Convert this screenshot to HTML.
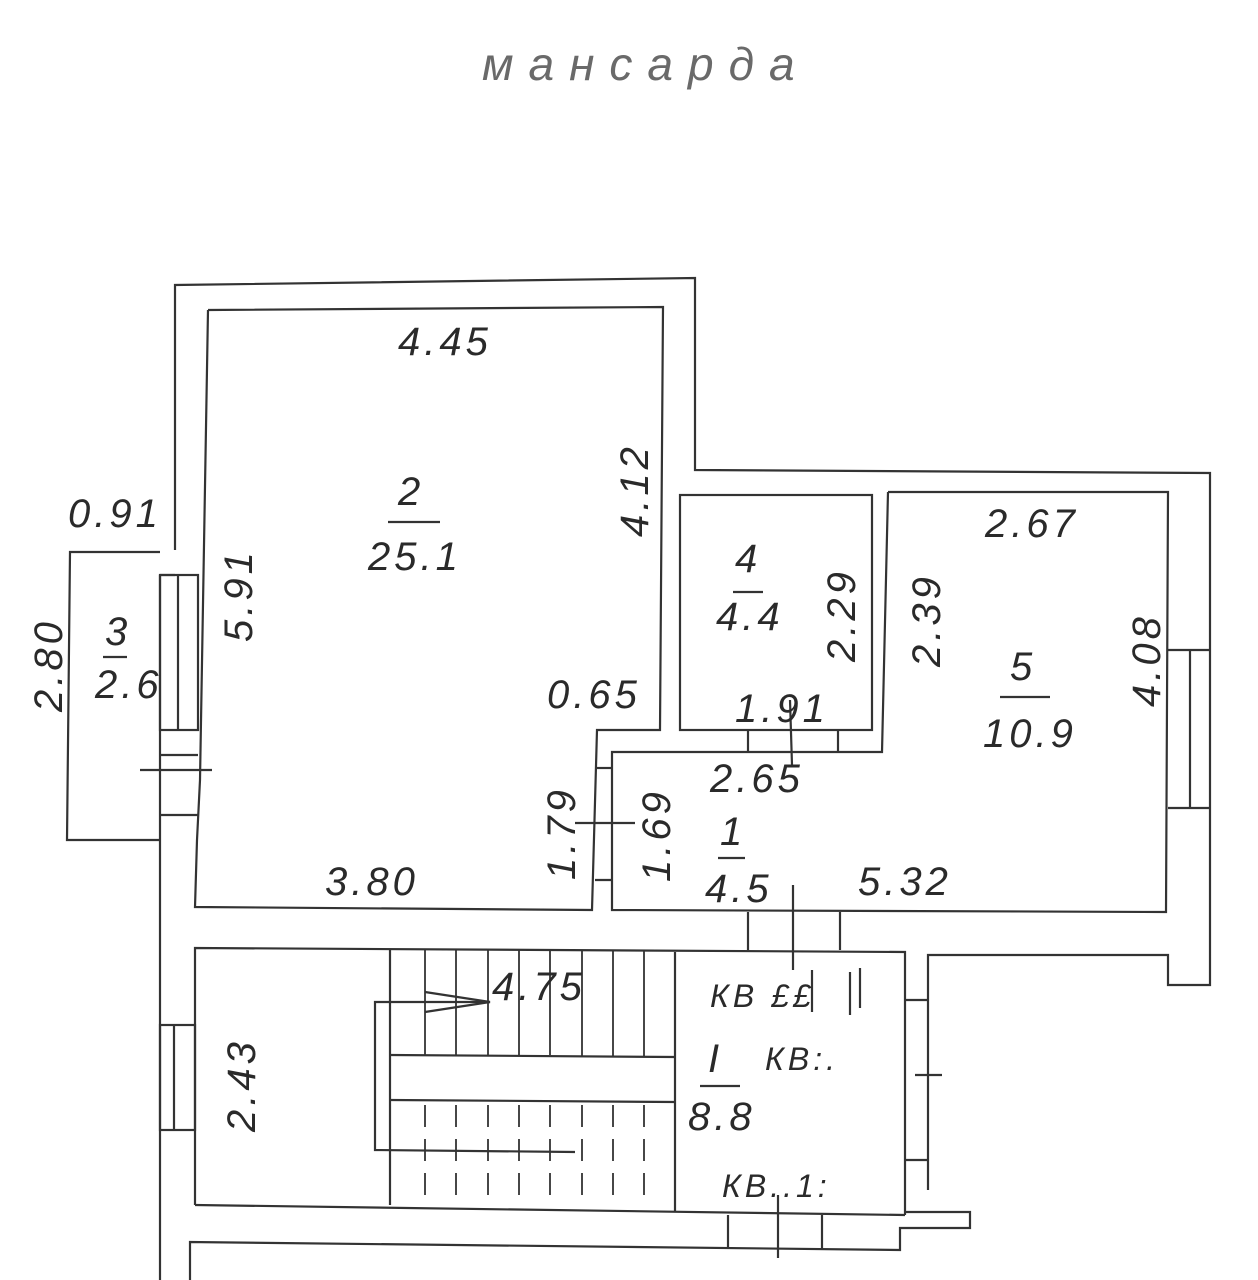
<!DOCTYPE html>
<html><head><meta charset="utf-8"><style>
html,body{margin:0;padding:0;background:#fff;}
svg{display:block;}
text{font-family:"Liberation Sans","DejaVu Sans",sans-serif;font-style:italic;fill:#2a2a2a;}
</style></head><body>
<svg width="1258" height="1280" viewBox="0 0 1258 1280" xmlns="http://www.w3.org/2000/svg">
<g fill="none" stroke="#333" stroke-width="2.2">
<polyline points="175,550 175,285 695,278 695,470 1210,473 1210,985 1168,985 1168,955 928,955 928,1190"/>
<line x1="160" y1="575" x2="160" y2="1280"/>
<line x1="160" y1="575" x2="175" y2="575"/>
<polyline points="208,310 663,307 660,730 597,730 592,910 195,907 197,840 200,780 208,310"/>
<rect x="160" y="575" width="38" height="155"/>
<line x1="178" y1="575" x2="178" y2="730"/>
<line x1="160" y1="755" x2="198" y2="755"/>
<line x1="160" y1="815" x2="198" y2="815"/>
<line x1="140" y1="770" x2="212" y2="770"/>
<polyline points="160,552 70,552 67,840 160,840"/>
<rect x="680" y="495" width="192" height="235"/>
<polyline points="888,492 1168,492 1166,912 612,910 612,752 882,752 888,492"/>
<line x1="748" y1="730" x2="748" y2="752"/>
<line x1="838" y1="730" x2="838" y2="752"/>
<line x1="790" y1="700" x2="792" y2="765"/>
<line x1="597" y1="768" x2="612" y2="768"/>
<line x1="595" y1="880" x2="612" y2="880"/>
<line x1="575" y1="823" x2="635" y2="823"/>
<line x1="1168" y1="650" x2="1210" y2="650"/>
<line x1="1168" y1="808" x2="1210" y2="808"/>
<line x1="1190" y1="650" x2="1190" y2="808"/>
<line x1="748" y1="912" x2="748" y2="950"/>
<line x1="840" y1="912" x2="840" y2="950"/>
<line x1="793" y1="885" x2="793" y2="970"/>
<polyline points="195,1205 195,948 905,952 905,1215"/>
<line x1="195" y1="1205" x2="905" y2="1215"/>
<line x1="390" y1="950" x2="390" y2="1205"/>
<line x1="675" y1="952" x2="675" y2="1212"/>
<line x1="390" y1="1055" x2="675" y2="1057"/>
<line x1="390" y1="1100" x2="675" y2="1102"/>
<g stroke-width="1.8">
<line x1="425" y1="950" x2="425" y2="1055"/><line x1="456" y1="950" x2="456" y2="1055"/><line x1="488" y1="950" x2="488" y2="1055"/><line x1="519" y1="950" x2="519" y2="1055"/><line x1="550" y1="950" x2="550" y2="1055"/><line x1="582" y1="950" x2="582" y2="1056"/><line x1="613" y1="950" x2="613" y2="1056"/><line x1="644" y1="950" x2="644" y2="1056"/>
</g>
<g stroke-width="1.8" stroke-dasharray="22,12">
<line x1="425" y1="1105" x2="425" y2="1205"/><line x1="456" y1="1105" x2="456" y2="1205"/><line x1="488" y1="1105" x2="488" y2="1205"/><line x1="519" y1="1105" x2="519" y2="1205"/><line x1="550" y1="1105" x2="550" y2="1205"/><line x1="582" y1="1105" x2="582" y2="1205"/><line x1="613" y1="1105" x2="613" y2="1205"/><line x1="644" y1="1105" x2="644" y2="1205"/>
</g>
<polyline points="490,1002 375,1002 375,1150 575,1152"/>
<polyline points="425,992 490,1002 425,1012"/>
<rect x="160" y="1025" width="35" height="105"/>
<line x1="174" y1="1025" x2="174" y2="1130"/>
<line x1="905" y1="1000" x2="928" y2="1000"/>
<line x1="905" y1="1160" x2="928" y2="1160"/>
<line x1="915" y1="1075" x2="942" y2="1075"/>
<polyline points="905,1212 970,1212 970,1228 900,1228 900,1250 190,1242 190,1280"/>
<line x1="728" y1="1215" x2="728" y2="1248"/>
<line x1="822" y1="1215" x2="822" y2="1250"/>
<line x1="778" y1="1195" x2="778" y2="1258"/>
<line x1="812" y1="970" x2="812" y2="1012"/><line x1="850" y1="972" x2="850" y2="1015"/><line x1="860" y1="968" x2="860" y2="1008"/>
<line x1="388" y1="522" x2="440" y2="522"/>
<line x1="103" y1="657" x2="127" y2="657"/>
<line x1="733" y1="592" x2="763" y2="592"/>
<line x1="1000" y1="697" x2="1050" y2="697"/>
<line x1="718" y1="858" x2="745" y2="858"/>
<line x1="700" y1="1086" x2="740" y2="1086"/>
</g>
<text x="482" y="80" font-size="46" style="font-style:italic;fill:#6a6a6a" letter-spacing="15">мансарда</text>
<g font-size="40" letter-spacing="4">
<text x="398" y="355">4.45</text>
<text x="398" y="505">2</text>
<text x="368" y="570">25.1</text>
<text x="68" y="527">0.91</text>
<text x="105" y="645">3</text>
<text x="95" y="698">2.6</text>
<text x="547" y="708">0.65</text>
<text x="325" y="895">3.80</text>
<text x="735" y="572">4</text>
<text x="716" y="630">4.4</text>
<text x="735" y="722">1.91</text>
<text x="710" y="792">2.65</text>
<text x="985" y="537">2.67</text>
<text x="1010" y="680">5</text>
<text x="983" y="747">10.9</text>
<text x="720" y="845">1</text>
<text x="705" y="902">4.5</text>
<text x="858" y="895">5.32</text>
<text x="492" y="1000">4.75</text>
<text x="710" y="1007" font-size="32">КВ ££</text>
<text x="708" y="1072">I</text>
<text x="765" y="1070" font-size="32">КВ:.</text>
<text x="688" y="1130">8.8</text>
<text x="722" y="1197" font-size="32">КВ..1:</text>
<text transform="translate(648,537) rotate(-90)">4.12</text>
<text transform="translate(252,642) rotate(-90)">5.91</text>
<text transform="translate(62,712) rotate(-90)">2.80</text>
<text transform="translate(575,880) rotate(-90)">1.79</text>
<text transform="translate(670,882) rotate(-90)">1.69</text>
<text transform="translate(855,662) rotate(-90)">2.29</text>
<text transform="translate(940,667) rotate(-90)">2.39</text>
<text transform="translate(1160,707) rotate(-90)">4.08</text>
<text transform="translate(255,1132) rotate(-90)">2.43</text>
</g>
</svg>
</body></html>
